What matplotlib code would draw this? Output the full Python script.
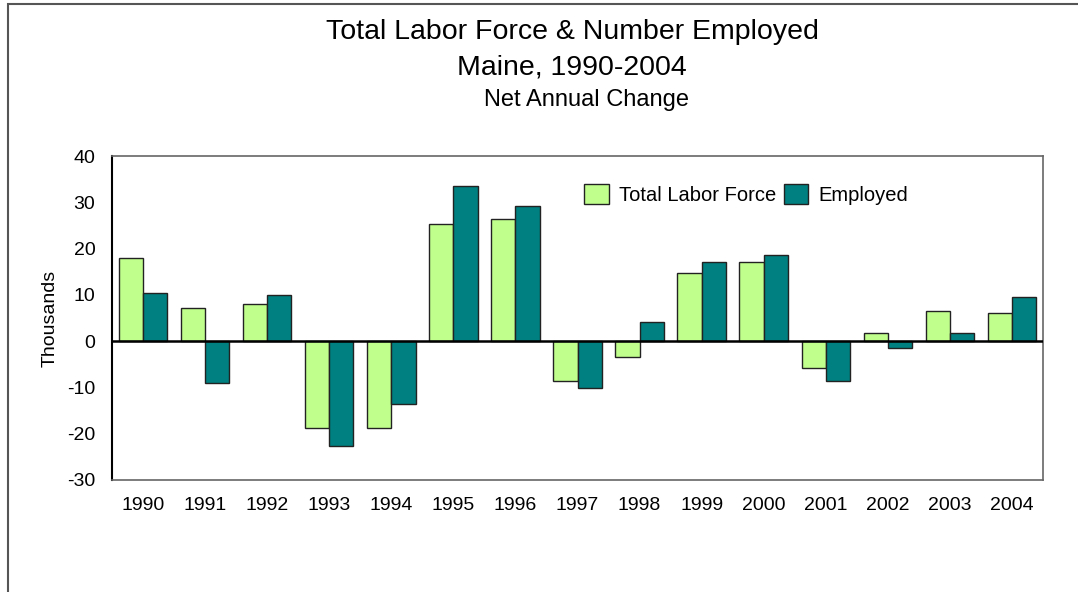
import numpy as np
import matplotlib.pyplot as plt
from matplotlib.patches import Rectangle

plt.rcParams['font.family'] = ['Liberation Sans', 'DejaVu Sans']
plt.rcParams['axes.unicode_minus'] = False

years = ['1990', '1991', '1992', '1993', '1994', '1995', '1996', '1997',
         '1998', '1999', '2000', '2001', '2002', '2003', '2004']
labor_force = [18.0, 7.2, 8.0, -18.7, -18.7, 25.4, 26.3, -8.7,
               -3.5, 14.8, 17.2, -5.9, 1.7, 6.5, 6.1]
employed = [10.4, -9.1, 10.0, -22.6, -13.5, 33.5, 29.1, -10.2,
            4.1, 17.2, 18.7, -8.7, -1.5, 1.7, 9.6]

fig = plt.figure(figsize=(10.78, 5.92), dpi=100)
# outer chart border (left/top visible)
fig.add_artist(Rectangle((8 / 1078, -0.1), 1.2, (590 - 2) / 592 + 0.1,
                         transform=fig.transFigure, fill=False,
                         edgecolor='#555555', linewidth=1.5))

ax = fig.add_axes([112 / 1078, 1 - 480 / 592, (1043 - 112) / 1078, (480 - 156) / 592])

x = np.arange(len(years))
w = 0.39
ax.bar(x - w / 2, labor_force, w, color='#C0FF8C', edgecolor='#222222',
       linewidth=1, label='Total Labor Force', zorder=2)
ax.bar(x + w / 2, employed, w, color='#008080', edgecolor='#222222',
       linewidth=1, label='Employed', zorder=2)
ax.axhline(0, color='black', linewidth=1.8, zorder=3)

ax.set_xlim(-0.5, len(years) - 0.5)
ax.set_ylim(-30, 40)
ax.set_yticks(range(-30, 41, 10))
ax.set_xticks(x)
ax.set_xticklabels(years)
ax.tick_params(length=0, labelsize=14, pad=12)
ax.tick_params(axis='y', pad=12)
ax.set_ylabel('Thousands', fontsize=14, labelpad=6)

ax.spines['left'].set_color('black')
ax.spines['left'].set_linewidth(1.5)
for s in ['top', 'right', 'bottom']:
    ax.spines[s].set_color('#666666')
    ax.spines[s].set_linewidth(1.2)

ax.legend(loc='upper left', bbox_to_anchor=(0.488, 0.97), ncol=2, frameon=False,
          fontsize=14.5, handlelength=1.2, handleheight=1.2, columnspacing=0.4,
          handletextpad=0.5)

fig.text(572 / 1078, 1 - 32 / 592, 'Total Labor Force & Number Employed',
         ha='center', va='center', fontsize=20.5)
fig.text(572 / 1078, 1 - 67 / 592, 'Maine, 1990-2004', ha='center', va='center', fontsize=20.5)
fig.text(586 / 1078, 1 - 100 / 592, 'Net Annual Change', ha='center', va='center', fontsize=17)

fig.savefig('out.png', dpi=100)
